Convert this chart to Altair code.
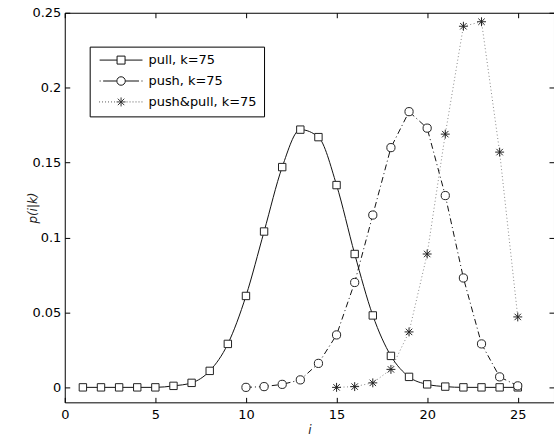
import altair as alt
import pandas as pd

# ---- data ----
series = ["pull, k=75", "push, k=75", "push&pull, k=75"]

i_pull = list(range(1, 26))
p_pull = [0, 0, 0, 0, 0, 0.001, 0.003, 0.011, 0.029, 0.061, 0.104, 0.147, 0.172,
          0.167, 0.135, 0.089, 0.048, 0.021, 0.007, 0.002, 0.0005, 0, 0, 0, 0]

i_push = list(range(10, 26))
p_push = [0, 0.0005, 0.002, 0.005, 0.016, 0.035, 0.070, 0.115, 0.160, 0.184,
          0.173, 0.128, 0.073, 0.029, 0.007, 0.001]

i_pp = list(range(15, 26))
p_pp = [0, 0.0005, 0.003, 0.012, 0.037, 0.089, 0.169, 0.241, 0.244, 0.157, 0.047]

x_ticks = [0, 5, 10, 15, 20, 25]
y_ticks = [0, 0.05, 0.1, 0.15, 0.2, 0.25]

df_pull = pd.DataFrame({"i": i_pull, "p": p_pull})
df_push = pd.DataFrame({"i": i_push, "p": p_push})
df_pp = pd.DataFrame({"i": i_pp, "p": p_pp})
df_leg = pd.DataFrame({"s": series, "i": [-5] * 3, "p": [-1] * 3})

FONT = "DejaVu Sans"
xs = alt.Scale(domain=[0, 27], nice=False, zero=False)
ys = alt.Scale(domain=[-0.01, 0.25], nice=False, zero=False)


# ---- marker / legend symbol paths (style only) ----
def seg(a, b):
    return f"M{a:.2f},0L{b:.2f},0"


def square(r):
    return f"M{-r},{-r}L{r},{-r}L{r},{r}L{-r},{r}Z"


def circle(r):
    return f"M{-r},0A{r},{r} 0 1,0 {r},0A{r},{r} 0 1,0 {-r},0Z"


def aster(r):
    d = round(0.72 * r, 3)
    return (f"M0,{-r}L0,{r}M{-r},0L{r},0"
            f"M{-d},{-d}L{d},{d}M{-d},{d}L{d},{-d}")


def dots(a, b, step=0.6):
    out = ""
    x = a
    while x <= b + 1e-9:
        out += seg(x - 0.08, x + 0.08)
        x += step
    return out


leg_pull = seg(-4.3, -0.8) + seg(0.8, 4.3) + square(0.8)
leg_push = (seg(-4.3, -4.1) + seg(-3.6, -0.9) + seg(0.9, 3.6) + seg(4.1, 4.3)
            + circle(0.85))
leg_pp = dots(-4.3, -1.0) + dots(1.2, 4.3) + aster(0.9)


def xenc(axis=None):
    return alt.X("i:Q", scale=xs, axis=axis)


def yenc(axis=None):
    return alt.Y("p:Q", scale=ys, axis=axis)


ax_common = dict(grid=False, domain=False, tickSize=5, offset=-5, tickColor="black",
                 labelFont=FONT, labelFontSize=13, labelColor="black",
                 labelFlush=False, labelOverlap=False,
                 titleFont=FONT, titleFontSize=12, titleFontStyle="italic",
                 titleFontWeight="normal", titleColor="#222")

x_axis = alt.Axis(orient="bottom", values=x_ticks, title="i", labelPadding=6,
                  titlePadding=3, **ax_common)
y_axis = alt.Axis(orient="left", values=y_ticks, title="p(i|k)", format="~g",
                  labelPadding=4, titlePadding=-8, **ax_common)

ax_blank = dict(grid=False, domain=False, tickSize=5, offset=-5, tickColor="black",
                labels=False, title=None)
x_top = alt.Axis(orient="top", values=x_ticks, **ax_blank)
y_right = alt.Axis(orient="right", values=y_ticks, **ax_blank)

line_pull = alt.Chart(df_pull).mark_line(
    color="#111", strokeWidth=1, interpolate="monotone"
).encode(x=xenc(x_axis), y=yenc(y_axis))

line_push = alt.Chart(df_push).mark_line(
    color="#111", strokeWidth=1, strokeDash=[6, 3, 1, 3]
).encode(x=xenc(x_top), y=yenc(y_right))

line_pp = alt.Chart(df_pp).mark_line(
    color="#888", strokeWidth=1, strokeDash=[1, 2.5]
).encode(x=xenc(), y=yenc())

pts_pull = alt.Chart(df_pull).mark_point(
    shape="square", size=55, filled=False, fill="white", stroke="#222",
    strokeWidth=1, opacity=1
).encode(x=xenc(), y=yenc())

pts_push = alt.Chart(df_push).mark_point(
    shape="circle", size=68, filled=False, fill="white", stroke="#222",
    strokeWidth=1, opacity=1
).encode(x=xenc(), y=yenc())

pts_pp = alt.Chart(df_pp).mark_point(
    shape=aster(1), size=80, filled=False, stroke="#222", strokeWidth=1, opacity=1
).encode(x=xenc(), y=yenc())

legend = alt.Chart(df_leg).mark_point(
    filled=False, clip=True, strokeWidth=1, opacity=1
).encode(
    x=xenc(), y=yenc(),
    shape=alt.Shape("s:N", scale=alt.Scale(domain=series,
                                           range=[leg_pull, leg_push, leg_pp]),
                    legend=alt.Legend(orient="none", legendX=25, legendY=34,
                                      title=None, strokeColor="black",
                                      fillColor="white", padding=7,
                                      labelFont=FONT, labelFontSize=13,
                                      labelColor="black", symbolSize=100,
                                      symbolStrokeWidth=1, symbolOffset=18,
                                      labelOffset=21, rowPadding=7)),
    color=alt.Color("s:N", scale=alt.Scale(domain=series,
                                           range=["#111", "#111", "#333"]),
                    legend=alt.Legend(orient="none", legendX=25, legendY=34,
                                      title=None)),
)

chart = alt.layer(
    line_pull, line_push, line_pp, pts_pull, pts_push, pts_pp, legend
).resolve_axis(
    x="independent", y="independent"
).properties(
    width=491, height=391,
    autosize=alt.AutoSizeParams(type="none"),
    padding={"left": 65, "top": 12, "right": 0, "bottom": 39},
    background="white",
).configure_view(stroke="black", strokeWidth=1)

chart.save("out.html", embed_options={"renderer": "svg", "actions": False})
